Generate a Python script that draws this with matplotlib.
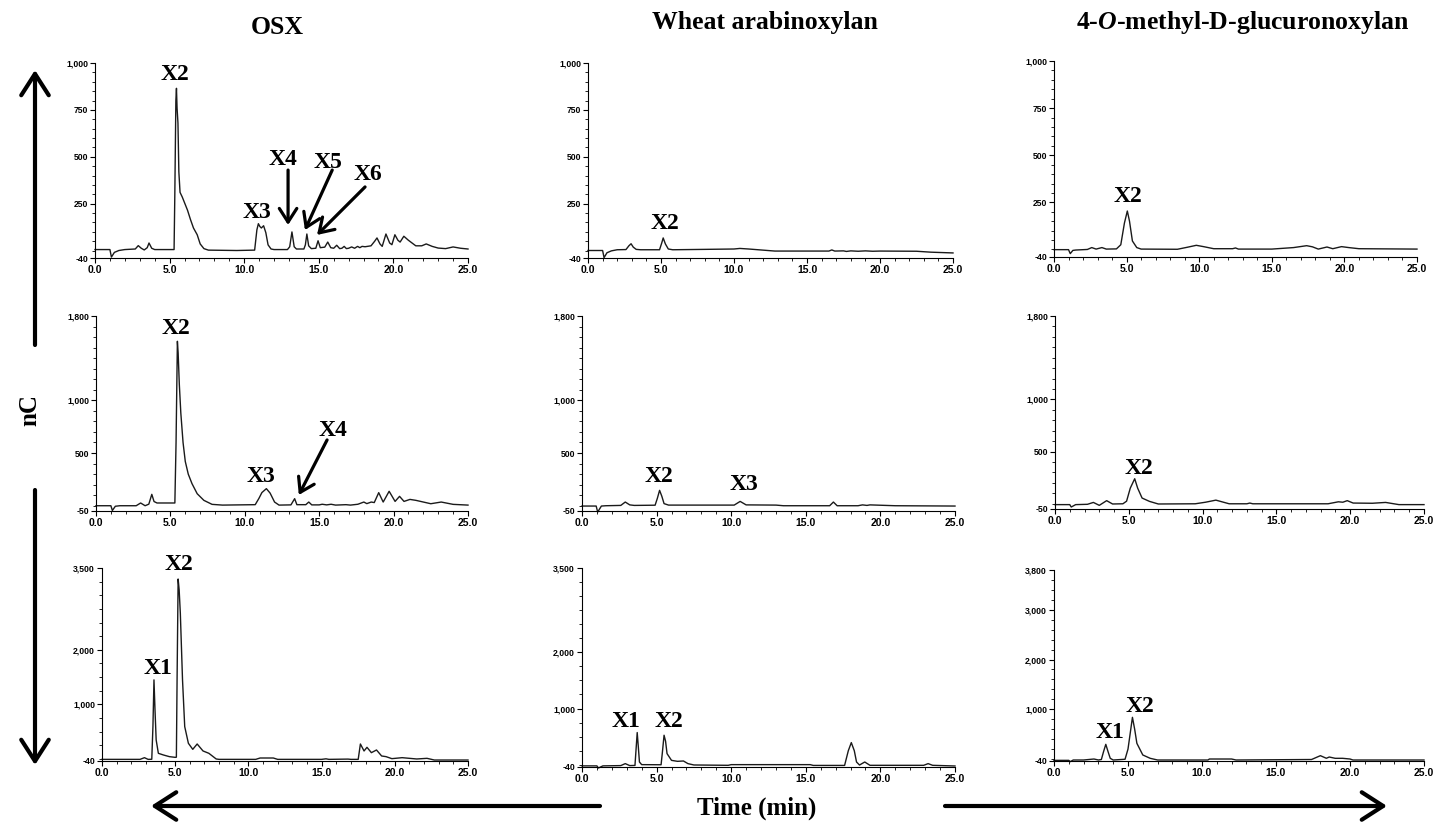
import matplotlib
matplotlib.use("Agg")
import matplotlib.pyplot as plt
from matplotlib.ticker import FixedLocator, MultipleLocator, FuncFormatter

plt.rcParams["mathtext.fontset"] = "custom"
plt.rcParams["mathtext.it"] = "Liberation Serif:italic:bold"
plt.rcParams["mathtext.rm"] = "Liberation Serif:bold"
plt.rcParams["mathtext.bf"] = "Liberation Serif:bold"

# ---------------- data (time [min], signal [nC]) ----------------
osx_row1 = [(0, 5), (1.0, 5), (1.1, -35), (1.3, -10), (1.6, 0), (2.0, 5), (2.7, 8), (2.9, 26), (3.1, 12),
            (3.3, 3), (3.5, 15), (3.62, 40), (3.8, 12), (4.0, 5), (5.3, 5), (5.35, 300), (5.42, 800),
            (5.46, 865), (5.5, 760), (5.56, 680), (5.62, 420), (5.7, 310), (5.85, 285), (6.0, 255),
            (6.2, 215), (6.4, 165), (6.6, 120), (6.85, 84), (7.05, 35), (7.3, 10), (7.6, 2), (9.5, 0),
            (10.7, 2), (10.85, 110), (10.95, 143), (11.05, 128), (11.15, 120), (11.3, 132), (11.45, 95),
            (11.6, 30), (11.8, 8), (12.0, 5), (12.9, 5), (13.05, 20), (13.2, 99), (13.35, 20), (13.5, 8),
            (14.0, 8), (14.1, 30), (14.2, 88), (14.32, 25), (14.5, 10), (14.8, 12), (14.95, 52), (15.1, 15),
            (15.4, 18), (15.6, 45), (15.8, 15), (16.0, 12), (16.2, 28), (16.4, 10), (16.55, 12), (16.7, 22),
            (16.85, 10), (17.0, 12), (17.2, 19), (17.4, 12), (17.6, 22), (17.75, 15), (17.9, 22), (18.1, 20),
            (18.5, 25), (18.75, 50), (18.9, 67), (19.1, 35), (19.25, 22), (19.5, 88), (19.75, 40), (19.9, 31),
            (20.1, 84), (20.3, 55), (20.45, 45), (20.7, 76), (21.0, 55), (21.5, 25), (21.9, 25), (22.2, 35),
            (22.6, 22), (23.0, 13), (23.5, 10), (24.0, 19), (24.5, 12), (25.0, 8)]
wheat_row1 = [(0, 0), (1.0, 0), (1.1, -38), (1.3, -12), (1.6, -2), (2.0, 4), (2.6, 5), (2.8, 25), (2.95, 36),
              (3.1, 18), (3.3, 6), (3.6, 4), (4.9, 4), (5.05, 40), (5.15, 67), (5.3, 35), (5.5, 8), (5.8, 4),
              (8.0, 6), (10.0, 8), (10.4, 11), (11.0, 8), (12.8, -3), (16.5, -3), (16.7, 3), (16.9, -3),
              (17.5, -2), (17.7, -5), (18.0, -2), (18.5, -4), (19.0, -2), (19.5, -4), (20.0, -3), (22.5, -4),
              (23.5, -9), (25.0, -13)]
gluc_row1 = [(0, -1), (1.0, -1), (1.12, -22), (1.3, -5), (1.5, -3), (2.3, 0), (2.6, 10), (2.9, 2), (3.3, 10),
             (3.6, 2), (4.3, 3), (4.6, 25), (4.85, 140), (5.05, 204), (5.2, 150), (5.4, 45), (5.7, 10), (6.0, 2),
             (8.5, 1), (9.2, 12), (9.8, 22), (10.3, 15), (11.0, 4), (12.3, 4), (12.5, 8), (12.7, 2), (15.0, 2),
             (16.5, 10), (17.4, 20), (17.8, 14), (18.2, 2), (18.8, 13), (19.2, 4), (19.8, 15), (20.3, 10),
             (21.0, 4), (25.0, 2)]
osx_row2 = [(0, 0), (1.0, 0), (1.1, -45), (1.3, -5), (1.6, 0), (2.7, 0), (3.0, 26), (3.3, 0), (3.55, 15),
            (3.75, 108), (3.9, 40), (4.1, 26), (5.3, 26), (5.38, 600), (5.47, 1560), (5.52, 1450), (5.6, 1150),
            (5.7, 880), (5.85, 600), (6.0, 420), (6.2, 300), (6.45, 210), (6.8, 114), (7.25, 51), (7.8, 13),
            (8.5, 6), (10.7, 10), (10.95, 70), (11.15, 125), (11.45, 162), (11.7, 120), (12.0, 35), (12.3, 6),
            (13.1, 8), (13.35, 67), (13.5, 10), (14.1, 10), (14.3, 35), (14.5, 8), (15.0, 8), (15.2, 14),
            (15.5, 8), (15.8, 14), (16.1, 6), (16.8, 10), (17.1, 6), (17.6, 14), (18.0, 35), (18.2, 20),
            (18.5, 35), (18.7, 30), (19.0, 124), (19.3, 35), (19.7, 137), (20.1, 41), (20.4, 89), (20.7, 41),
            (21.1, 60), (21.5, 51), (22.0, 35), (22.5, 19), (23.2, 35), (24.0, 13), (25.0, 6)]
wheat_row2 = [(0, -3), (0.95, -3), (1.05, -60), (1.3, -3), (1.6, 0), (2.6, 3), (2.9, 35), (3.2, 8), (3.5, 3),
              (4.9, 5), (5.05, 70), (5.2, 146), (5.35, 90), (5.5, 20), (5.8, 6), (10.2, 6), (10.6, 41),
              (11.0, 8), (13.0, 6), (13.5, 0), (16.6, 0), (16.85, 35), (17.1, 0), (18.5, 0), (18.8, 8),
              (19.1, 3), (19.3, 8), (21.0, 0), (25.0, -3)]
gluc_row2 = [(0, -8), (1.0, -8), (1.1, -31), (1.4, -8), (2.2, -5), (2.6, 13), (3.0, -15), (3.5, 30), (3.9, -2),
             (4.6, 0), (4.85, 25), (5.1, 150), (5.4, 240), (5.6, 150), (5.9, 55), (6.4, 23), (7.0, -2),
             (9.5, 0), (10.2, 15), (10.9, 35), (11.8, 0), (13.0, 0), (13.2, 7), (13.4, 0), (18.5, 0),
             (19.2, 19), (19.5, 15), (19.8, 30), (20.2, 7), (21.5, 5), (22.4, 13), (23.3, -8), (25.0, -8)]
osx_row3 = [(0, -10), (2.6, -10), (2.9, 21), (3.15, -10), (3.4, -8), (3.48, 600), (3.55, 1448), (3.62, 900),
            (3.7, 346), (3.85, 101), (4.2, 70), (4.6, 40), (5.0, 27), (5.08, 30), (5.13, 1500), (5.2, 3298),
            (5.27, 3100), (5.35, 2673), (5.5, 1448), (5.65, 591), (5.9, 285), (6.2, 174), (6.5, 272),
            (6.9, 144), (7.3, 101), (7.8, -3), (8.0, -10), (10.5, -10), (10.8, 15), (11.7, 15), (12.0, -10),
            (15.0, -10), (15.3, 0), (15.5, -10), (16.8, -5), (17.0, -10), (17.5, -10), (17.65, 272),
            (17.9, 144), (18.1, 211), (18.4, 113), (18.75, 162), (19.1, 52), (19.4, 40), (19.8, 3),
            (20.5, 21), (21.5, -3), (22.2, 9), (22.7, -22), (25.0, -22)]
wheat_row3 = [(0, -20), (1.0, -20), (1.1, -58), (1.4, -20), (2.6, -15), (2.9, 20), (3.2, -15), (3.55, -12),
              (3.63, 300), (3.7, 573), (3.78, 300), (3.85, 49), (4.0, 2), (5.3, 0), (5.38, 200), (5.5, 525),
              (5.6, 420), (5.7, 198), (6.0, 78), (6.4, 61), (6.8, 67), (7.1, 20), (7.5, -4), (9.8, -10),
              (10.0, 2), (15.3, 2), (15.5, -12), (17.6, -12), (17.85, 250), (18.05, 394), (18.25, 250),
              (18.4, 49), (18.6, -5), (18.95, 49), (19.3, -10), (22.9, -10), (23.2, 20), (23.5, -10),
              (25.0, -22)]
gluc_row3 = [(0, -27), (1.0, -27), (1.1, -53), (1.3, -20), (2.0, -20), (2.7, 0), (3.0, -20), (3.2, -10),
             (3.35, 150), (3.5, 295), (3.65, 150), (3.8, 14), (4.0, -20), (4.8, -5), (5.0, 200), (5.3, 838),
             (5.45, 600), (5.6, 315), (6.0, 81), (6.5, 14), (7.0, -20), (10.4, -20), (10.5, 0), (12.0, 0),
             (12.3, -20), (17.4, -10), (18.0, 67), (18.4, 15), (18.6, 40), (19.0, 14), (19.5, 14), (20.0, 0),
             (20.2, -20), (25.0, -20)]

column_titles = ["OSX", "Wheat arabinoxylan", "4-$\\mathit{O}$-methyl-D-glucuronoxylan"]
x_ticks = [0, 5, 10, 15, 20, 25]
y_ticks_row1 = [-40, 250, 500, 750, 1000]
y_ticks_row2 = [-50, 500, 1000, 1800]
y_ticks_row3 = [-40, 1000, 2000, 3500]
y_ticks_row3_right = [-40, 1000, 2000, 3000, 3800]

# peak labels: (text, time, nC)
labels_osx1 = [("X2", 5.36, 936), ("X3", 10.86, 200), ("X4", 12.6, 483), ("X5", 15.6, 472), ("X6", 18.3, 403)]
arrows_osx1 = [((12.94, 429), (12.94, 136)), ((15.9, 429), (14.07, 109)), ((18.1, 339), (14.88, 83))]
labels_wheat1 = [("X2", 5.27, 145)]
labels_gluc1 = [("X2", 5.06, 279)]
labels_osx2 = [("X2", 5.36, 1686), ("X3", 11.1, 282), ("X4", 15.93, 718)]
arrows_osx2 = [((15.53, 624), (13.63, 102))]
labels_wheat2 = [("X2", 5.16, 273), ("X3", 10.86, 197)]
labels_gluc2 = [("X2", 5.67, 340)]
labels_osx3 = [("X1", 3.8, 1660), ("X2", 5.23, 3573)]
labels_wheat3 = [("X1", 2.97, 763), ("X2", 5.8, 763)]
labels_gluc3 = [("X1", 3.77, 529), ("X2", 5.8, 1051)]

# ---------------- layout ----------------
W, H = 1437, 823
fig = plt.figure(figsize=(W / 100, H / 100), dpi=100)
SERIF = "Liberation Serif"
SANS = "Liberation Sans"

panels = [
    (osx_row1, (95, 63, 468, 258), (-40, 1000), y_ticks_row1, 50, labels_osx1, arrows_osx1),
    (wheat_row1, (588, 63, 953, 258), (-40, 1000), y_ticks_row1, 50, labels_wheat1, []),
    (gluc_row1, (1054, 61, 1417, 257), (-40, 1000), y_ticks_row1, 50, labels_gluc1, []),
    (osx_row2, (96, 316, 468, 511), (-50, 1800), y_ticks_row2, 100, labels_osx2, arrows_osx2),
    (wheat_row2, (582, 316, 955, 511), (-50, 1800), y_ticks_row2, 100, labels_wheat2, []),
    (gluc_row2, (1055, 316, 1424, 509), (-50, 1800), y_ticks_row2, 100, labels_gluc2, []),
    (osx_row3, (102, 568, 468, 761), (-40, 3500), y_ticks_row3, 250, labels_osx3, []),
    (wheat_row3, (582, 568, 955, 767), (-40, 3500), y_ticks_row3, 250, labels_wheat3, []),
    (gluc_row3, (1054, 570, 1424, 761), (-40, 3800), y_ticks_row3_right, 200, labels_gluc3, []),
]

for trace, (x0, y0, x1, y1), ylim, yt, ymin_step, labels, arrows in panels:
    ax = fig.add_axes([x0 / W, 1 - y1 / H, (x1 - x0) / W, (y1 - y0) / H])
    t = [p[0] for p in trace]
    v = [p[1] for p in trace]
    ax.plot(t, v, color="#1a1a1a", lw=1.0, clip_on=False)
    ax.set_xlim(0, 25)
    ax.set_ylim(*ylim)
    for s in ("top", "right"):
        ax.spines[s].set_visible(False)
    for s in ("left", "bottom"):
        ax.spines[s].set_linewidth(0.8)
    ax.xaxis.set_major_locator(FixedLocator(x_ticks))
    ax.xaxis.set_minor_locator(MultipleLocator(1))
    ax.xaxis.set_major_formatter(FuncFormatter(lambda val, pos: f"{val:.1f}"))
    ax.yaxis.set_major_locator(FixedLocator(yt))
    minors = [m for m in range(0, int(ylim[1]), ymin_step) if m not in yt]
    ax.yaxis.set_minor_locator(FixedLocator(minors))
    ax.yaxis.set_major_formatter(FuncFormatter(lambda val, pos: f"{val:,.0f}"))
    ax.tick_params(axis="both", which="major", length=3.5, width=0.8, pad=1.5)
    ax.tick_params(axis="both", which="minor", length=2, width=0.6)
    for lab in ax.get_xticklabels():
        lab.set_fontfamily(SANS)
        lab.set_fontweight("bold")
        lab.set_fontsize(7.5)
    for lab in ax.get_yticklabels():
        lab.set_fontfamily(SANS)
        lab.set_fontweight("bold")
        lab.set_fontsize(6.2)
    for txt, tx, ty in labels:
        ax.text(tx, ty, txt, ha="center", va="center", fontsize=17, fontweight="bold",
                family=SERIF, clip_on=False)
    for (sx, sy), (ex, ey) in arrows:
        ax.annotate("", xy=(ex, ey), xytext=(sx, sy), annotation_clip=False,
                    arrowprops=dict(arrowstyle="->,head_length=0.7,head_width=0.45", lw=2.3,
                                    color="black", shrinkA=0, shrinkB=0, mutation_scale=14))

# column titles
title_pos = [(277, 28), (765, 22), (1243, 22)]
for title, (tx, ty) in zip(column_titles, title_pos):
    fig.text(tx / W, 1 - ty / H, title, ha="center", va="center", fontsize=18.5,
             fontweight="bold", family=SERIF)

# axis labels
fig.text(30 / W, 1 - 410 / H, "nC", rotation=90, ha="center", va="center", fontsize=18,
         fontweight="bold", family=SERIF)
fig.text(757 / W, 1 - 808 / H, "Time (min)", ha="center", va="center", fontsize=18,
         fontweight="bold", family=SERIF)

big = dict(arrowstyle="->,head_length=0.7,head_width=0.45", lw=3, color="black",
           shrinkA=0, shrinkB=0, mutation_scale=22)


def fig_arrow(start, end):
    fig.add_artist(matplotlib.patches.FancyArrowPatch(
        posA=(start[0] / W, 1 - start[1] / H), posB=(end[0] / W, 1 - end[1] / H),
        transform=fig.transFigure, **big))


fig_arrow((35, 345), (35, 70))
fig_arrow((35, 490), (35, 765))
fig_arrow((600, 806), (151, 806))
fig_arrow((945, 806), (1387, 806))

fig.savefig("out.png", dpi=100, facecolor="white")
